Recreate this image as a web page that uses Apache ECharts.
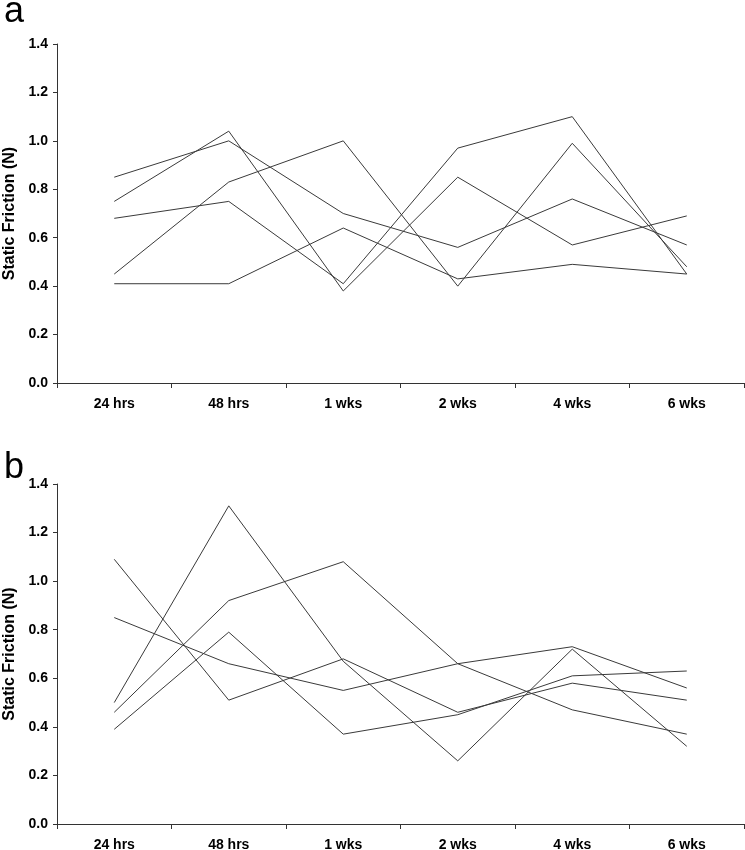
<!DOCTYPE html>
<html>
<head>
<meta charset="utf-8">
<script src="https://cdn.jsdelivr.net/npm/echarts@6/dist/echarts.min.js"></script>
<style>
html,body{margin:0;padding:0;background:#fff;}
#chart{width:745px;height:850px;}
</style>
</head>
<body>
<div id="chart"></div>
<script>
const categories = ['24 hrs', '48 hrs', '1 wks', '2 wks', '4 wks', '6 wks'];
const panelLabels = ['a', 'b'];
const yAxisName = 'Static Friction (N)';

// Panel a
const a1 = [0.85, 1.00, 0.70, 0.56, 0.76, 0.57];
const a2 = [0.75, 1.04, 0.38, 0.85, 0.57, 0.69];
const a3 = [0.68, 0.75, 0.41, 0.97, 1.10, 0.45];
const a4 = [0.45, 0.83, 1.00, 0.40, 0.99, 0.48];
const a5 = [0.41, 0.41, 0.64, 0.43, 0.49, 0.45];

// Panel b
const b1 = [1.09, 0.51, 0.68, 0.46, 0.58, 0.51];
const b2 = [0.85, 0.66, 0.55, 0.66, 0.73, 0.56];
const b3 = [0.50, 1.31, 0.67, 0.26, 0.72, 0.32];
const b4 = [0.46, 0.92, 1.08, 0.66, 0.47, 0.37];
const b5 = [0.39, 0.79, 0.37, 0.45, 0.61, 0.63];

const panelA = [a1, a2, a3, a4, a5];
const panelB = [b1, b2, b3, b4, b5];

const FONT = 'Liberation Sans, Arial, sans-serif';
const AXIS_COLOR = '#333';
const LINE_COLOR = '#3a3a3a';

function xAxis(gridIndex) {
  return {
    type: 'category', gridIndex, data: categories, boundaryGap: true,
    axisLine: { lineStyle: { color: AXIS_COLOR, width: 1 } },
    axisTick: { show: true, length: 5, lineStyle: { color: AXIS_COLOR } },
    axisLabel: { color: '#000', fontFamily: FONT, fontWeight: 'bold', fontSize: 14, margin: 14 },
    splitLine: { show: false }
  };
}
function yAxis(gridIndex) {
  return {
    type: 'value', gridIndex, min: 0, max: 1.4, interval: 0.2,
    name: yAxisName, nameLocation: 'middle', nameGap: 39,
    nameTextStyle: { color: '#000', fontFamily: FONT, fontWeight: 'bold', fontSize: 16 },
    axisLine: { show: true, lineStyle: { color: AXIS_COLOR, width: 1 } },
    axisTick: { show: true, length: 4, lineStyle: { color: AXIS_COLOR } },
    axisLabel: { color: '#000', fontFamily: FONT, fontWeight: 'bold', fontSize: 14, margin: 9,
      formatter: v => v.toFixed(1) },
    splitLine: { show: false }
  };
}
function lines(data, idx) {
  return data.map(d => ({
    type: 'line', xAxisIndex: idx, yAxisIndex: idx, data: d,
    symbol: 'none', lineStyle: { color: LINE_COLOR, width: 1 }, silent: true
  }));
}

const chart = echarts.init(document.getElementById('chart'), null, { renderer: 'canvas' });
chart.setOption({
  animation: false,
  backgroundColor: '#fff',
  title: [
    { text: panelLabels[0], left: -1, top: -11, textStyle: { fontFamily: FONT, fontWeight: 'normal', fontSize: 36, color: '#000' } },
    { text: panelLabels[1], left: -1, top: 445, textStyle: { fontFamily: FONT, fontWeight: 'normal', fontSize: 36, color: '#000' } }
  ],
  grid: [
    { left: 57, right: 1, top: 44, height: 339, outerBoundsMode: 'none', containLabel: false },
    { left: 57, right: 1, top: 484, height: 340, outerBoundsMode: 'none', containLabel: false }
  ],
  xAxis: [xAxis(0), xAxis(1)],
  yAxis: [yAxis(0), yAxis(1)],
  series: [...lines(panelA, 0), ...lines(panelB, 1)]
});
</script>
</body>
</html>
